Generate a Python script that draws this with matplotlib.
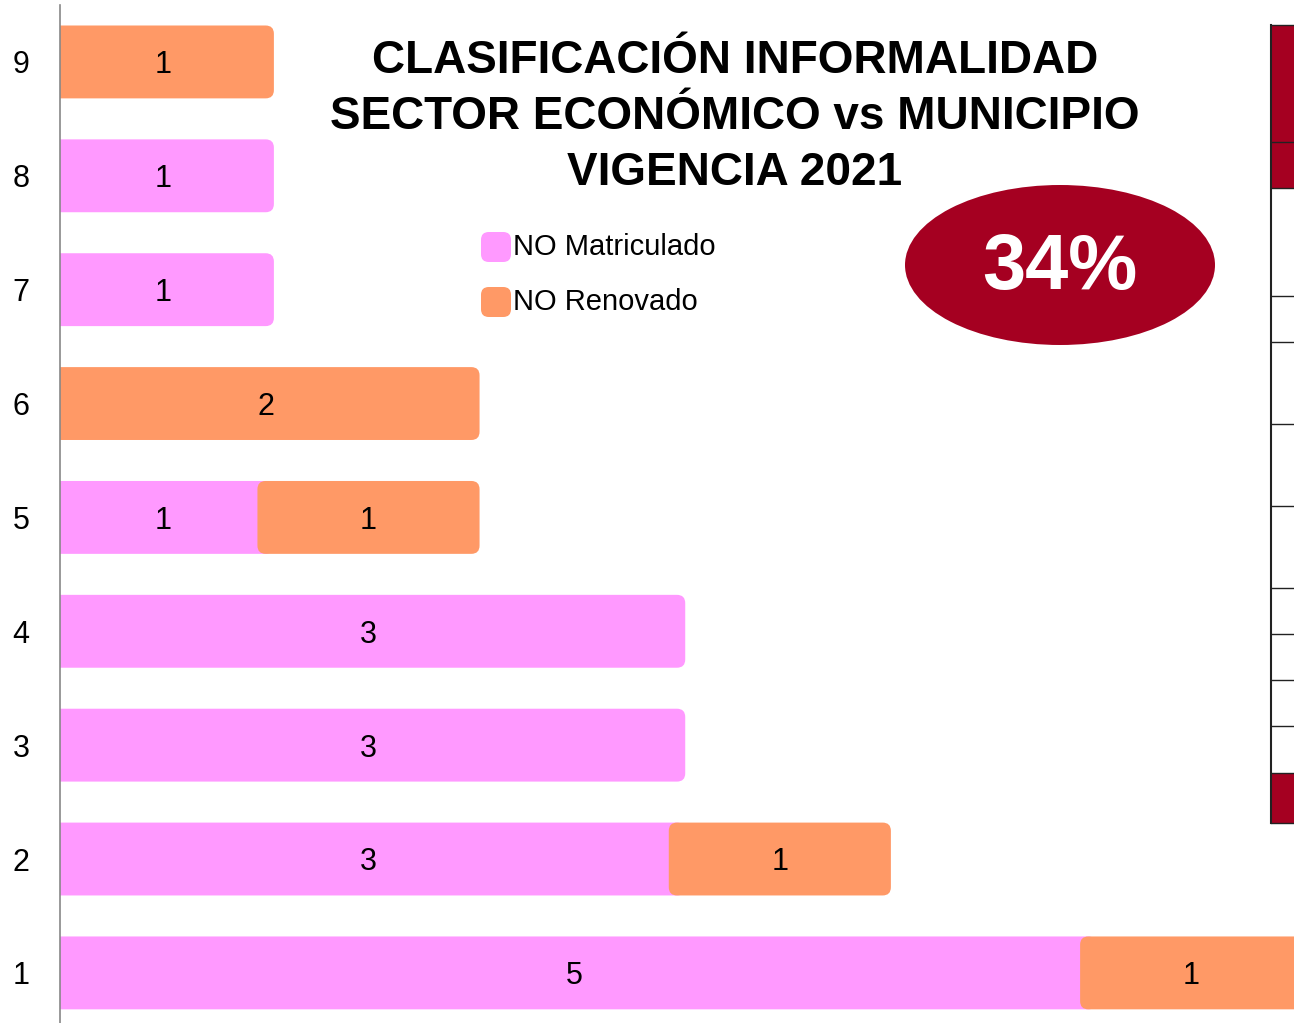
import matplotlib
matplotlib.use("Agg")
import matplotlib.pyplot as plt
from matplotlib.patches import FancyBboxPatch, Ellipse, Rectangle

# data (rows 1..9, bottom to top)
rows = [1, 2, 3, 4, 5, 6, 7, 8, 9]
no_matriculado = [5, 3, 3, 3, 1, 0, 1, 1, 0]
no_renovado = [1, 1, 0, 0, 1, 2, 0, 0, 1]
series_names = ["NO Matriculado", "NO Renovado"]
title_lines = ["CLASIFICACIÓN INFORMALIDAD", "SECTOR ECONÓMICO vs MUNICIPIO", "VIGENCIA 2021"]
badge_text = "34%"

PINK = "#FF99FF"
ORANGE = "#FF9966"
DARK_RED = "#A50021"
FONT = ["Liberation Sans", "DejaVu Sans"]

plt.rcParams['font.family'] = FONT

W, H = 1294, 1023
fig = plt.figure(figsize=(W / 100, H / 100), dpi=100)
ax = fig.add_axes([60 / W, 0, (W - 60) / W, (H - 5) / H])
ax.set_xlim(0, 6)
ax.set_ylim(0.56, 9.5)

bar_h = 0.64
overlap = 0.04
# y data units per pixel over x data units per pixel, keeps corners round
aspect = (8.94 / (H - 5)) / (6 / (W - 60))


def add_bar(left, width, y, color, label):
    patch = FancyBboxPatch((left - overlap, y - bar_h / 2), width + 2 * overlap, bar_h,
                           boxstyle="round,pad=0,rounding_size=0.04",
                           mutation_aspect=aspect, facecolor=color,
                           edgecolor="none", clip_on=True)
    ax.add_patch(patch)
    ax.text(left + width / 2, y - 0.03, str(label), ha="center", va="center",
            fontsize=22, color="black")


for y, m, r in zip(rows, no_matriculado, no_renovado):
    if m > 0:
        add_bar(0, m, y, PINK, m)
    if r > 0:
        add_bar(m, r, y, ORANGE, r)

ax.set_yticks(rows)
ax.set_yticklabels([str(r) for r in rows], fontsize=22)
ax.tick_params(axis="y", length=0, pad=22)
ax.set_xticks([])
for side in ["top", "right", "bottom"]:
    ax.spines[side].set_visible(False)
ax.spines["left"].set_color("#888888")
ax.spines["left"].set_linewidth(1.2)

# title
fig.text(735 / W, 1 - 117 / H, "\n".join(title_lines), ha="center", va="center",
         fontsize=33, fontweight="bold", linespacing=1.36)

# legend (drawn by hand to match the rounded swatches)
for i, (name, color) in enumerate(zip(series_names, [PINK, ORANGE])):
    yc = 1 - (247 + i * 55) / H
    sw = FancyBboxPatch((481 / W, yc - 15 / H), 30 / W, 30 / H,
                        boxstyle="round,pad=0,rounding_size=0.006",
                        mutation_aspect=W / H, facecolor=color, edgecolor="none",
                        transform=fig.transFigure)
    fig.add_artist(sw)
    fig.text(513 / W, yc, name, ha="left", va="center", fontsize=21)

# percentage badge
fig.add_artist(Ellipse((1060 / W, 1 - 265 / H), 310 / W, 160 / H,
                       transform=fig.transFigure, facecolor=DARK_RED, edgecolor="none"))
fig.text(1060 / W, 1 - 268 / H, badge_text, ha="center", va="center",
         fontsize=56, fontweight="bold", color="white")

# clipped table at right edge
x0 = 1271 / W
tw = (W - 1271) / W
fig.add_artist(Rectangle((x0, 1 - 188 / H), tw, (188 - 25) / H, transform=fig.transFigure,
                         facecolor=DARK_RED, edgecolor="none"))
fig.add_artist(Rectangle((x0, 1 - 823 / H), tw, (823 - 773) / H, transform=fig.transFigure,
                         facecolor=DARK_RED, edgecolor="none"))
fig.add_artist(plt.Line2D([x0, x0], [1 - 25 / H, 1 - 823 / H], transform=fig.transFigure,
                          color="#222222", lw=1.5))
for yl in [25, 142, 188, 296, 342, 424, 506, 588, 634, 680, 726, 773, 823]:
    fig.add_artist(plt.Line2D([x0, 1], [1 - yl / H, 1 - yl / H], transform=fig.transFigure,
                              color="#222222", lw=1))

fig.savefig("out.png", dpi=100)
